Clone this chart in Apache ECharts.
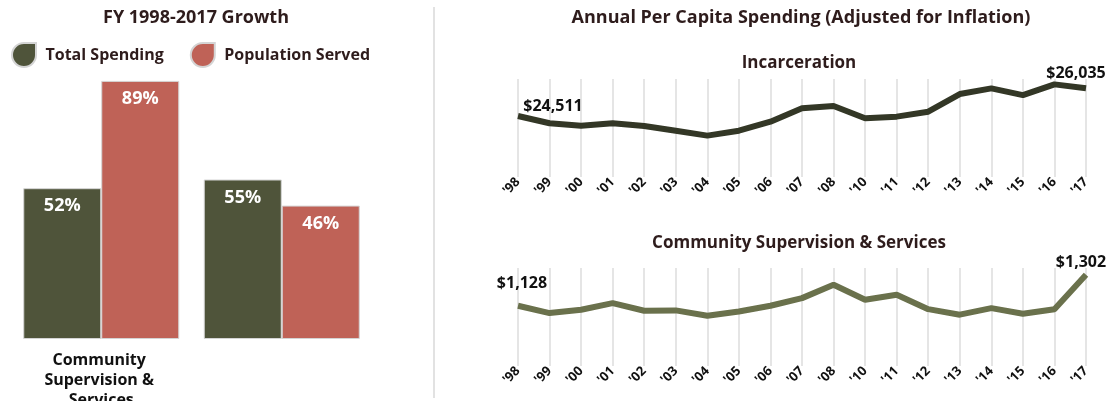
<!DOCTYPE html>
<html>
<head>
<meta charset="utf-8">
<script src="https://cdn.jsdelivr.net/npm/echarts@6/dist/echarts.min.js"></script>
<style>
  html, body { margin: 0; padding: 0; background: #fff; }
  #chart { width: 1112px; height: 401px; }
</style>
</head>
<body>
<div id="chart"></div>
<script>
// left panel: growth FY 1998-2017
const groups = ['Community Supervision & Services', 'Incarceration']
const totalSpending = [52, 55]
const populationServed = [89, 46]

// right panel: per capita spending by year (no '09 in source)
const years = ["'98", "'99", "'00", "'01", "'02", "'03", "'04", "'05", "'06", "'07", "'08",
  "'10", "'11", "'12", "'13", "'14", "'15", "'16", "'17"]
const incarceration = [24511, 24110, 23980, 24110, 23960, 23700, 23430, 23700, 24200, 24935,
  25060, 24385, 24475, 24750, 25720, 26035, 25665, 26255, 26035]
const community = [1128, 1087, 1106, 1143, 1100, 1102, 1072, 1096, 1128, 1171,
  1246, 1162, 1190, 1109, 1078, 1115, 1083, 1109, 1302]

const FONT = 'Open Sans'
const DARK = '#2e1c1c'
const OLIVE = '#4f543a'
const RED = '#bf6257'
const leaf = 'path://M0,12 A12,12 0 0 1 12,0 L24,0 L24,12 A12,12 0 0 1 12,24 A12,12 0 0 1 0,12 Z'

const money = v => '$' + v.toLocaleString('en-US')

// label only the first and last point, placed relative to the point
function endLabels(values, firstPos, lastPos) {
  return values.map((v, i) => {
    if (i === 0) return { value: v, label: { show: true, position: firstPos } }
    if (i === values.length - 1) return { value: v, label: { show: true, position: lastPos } }
    return v
  })
}

const chart = echarts.init(document.getElementById('chart'))

const lineX = gi => ({
  gridIndex: gi,
  type: 'category',
  boundaryGap: false,
  data: years,
  axisLine: { show: false },
  axisTick: { show: false },
  splitLine: { show: true, lineStyle: { color: '#dcdcdc', width: 1.5 } },
  axisLabel: {
    rotate: 45,
    margin: 3,
    interval: 0,
    color: '#111',
    fontFamily: FONT,
    fontWeight: 'bold',
    fontSize: 13
  }
})

const labelStyle = {
  formatter: p => money(p.value),
  align: 'center',
  verticalAlign: 'middle',
  color: '#111',
  fontFamily: FONT,
  fontWeight: 'bold',
  fontSize: 16
}

const titleStyle = { color: DARK, fontFamily: FONT, fontWeight: 'bold', fontSize: 18 }
const subTitleStyle = { color: DARK, fontFamily: FONT, fontWeight: 'bold', fontSize: 17 }

const option = {
  backgroundColor: '#fff',
  animation: false,
  textStyle: { fontFamily: FONT },
  title: [
    { text: 'FY 1998-2017 Growth', left: 196, top: 9, padding: 0, textAlign: 'center', textStyle: titleStyle },
    { text: 'Annual Per Capita Spending (Adjusted for Inflation)', left: 801, top: 9, padding: 0, textAlign: 'center', textStyle: titleStyle },
    { text: 'Incarceration', left: 799, top: 55, padding: 0, textAlign: 'center', textStyle: subTitleStyle },
    { text: 'Community Supervision & Services', left: 799, top: 235, padding: 0, textAlign: 'center', textStyle: subTitleStyle }
  ],
  legend: {
    data: ['Total Spending', 'Population Served'],
    left: 11, top: 42,
    padding: 0,
    itemWidth: 25, itemHeight: 24,
    itemGap: 26,
    icon: leaf,
    textStyle: { color: DARK, fontFamily: FONT, fontWeight: 'bold', fontSize: 16, padding: [0, 0, 0, 4] }
  },
  graphic: [
    {
      type: 'line',
      shape: { x1: 434, y1: 7, x2: 434, y2: 398 },
      style: { stroke: '#d8d8d8', lineWidth: 1.5 }
    }
  ],
  grid: [
    { left: 11, width: 361, top: 49, bottom: 62, outerBoundsMode: 'none' },
    { left: 518, right: 26, top: 79, height: 98, outerBoundsMode: 'none' },
    { left: 518, right: 26, top: 268, height: 98, outerBoundsMode: 'none' }
  ],
  xAxis: [
    {
      gridIndex: 0,
      type: 'category',
      data: groups,
      axisLine: { show: false },
      axisTick: { show: false },
      axisLabel: {
        margin: 11,
        width: 130,
        overflow: 'break',
        lineHeight: 20,
        color: '#111',
        fontFamily: FONT,
        fontWeight: 'bold',
        fontSize: 16
      }
    },
    lineX(1),
    lineX(2)
  ],
  yAxis: [
    { gridIndex: 0, type: 'value', min: 0, max: 100, show: false },
    { gridIndex: 1, type: 'value', min: 21150, max: 26550, show: false },
    { gridIndex: 2, type: 'value', min: 790, max: 1340, show: false }
  ],
  series: [
    {
      name: 'Total Spending',
      type: 'bar',
      xAxisIndex: 0, yAxisIndex: 0,
      barWidth: 78,
      barGap: '0%',
      itemStyle: { color: OLIVE, borderColor: '#d4d4d4', borderWidth: 1 },
      label: {
        show: true, position: 'insideTop', distance: 9,
        formatter: '{c}%', color: '#fff', fontFamily: FONT, fontWeight: 'bold', fontSize: 18
      },
      data: totalSpending
    },
    {
      name: 'Population Served',
      type: 'bar',
      xAxisIndex: 0, yAxisIndex: 0,
      barWidth: 78,
      itemStyle: { color: RED, borderColor: '#d4d4d4', borderWidth: 1 },
      label: {
        show: true, position: 'insideTop', distance: 9,
        formatter: '{c}%', color: '#fff', fontFamily: FONT, fontWeight: 'bold', fontSize: 18
      },
      data: populationServed
    },
    {
      name: 'Incarceration',
      type: 'line',
      xAxisIndex: 1, yAxisIndex: 1,
      symbol: 'circle',
      symbolSize: 0,
      lineStyle: { color: '#333726', width: 6 },
      label: labelStyle,
      data: endLabels(incarceration, [35, -10], [-10, -15])
    },
    {
      name: 'Community Supervision & Services',
      type: 'line',
      xAxisIndex: 2, yAxisIndex: 2,
      symbol: 'circle',
      symbolSize: 0,
      lineStyle: { color: '#6a714c', width: 6 },
      label: labelStyle,
      data: endLabels(community, [4, -22], [-5, -12])
    }
  ]
}

chart.setOption(option)
</script>
</body>
</html>
